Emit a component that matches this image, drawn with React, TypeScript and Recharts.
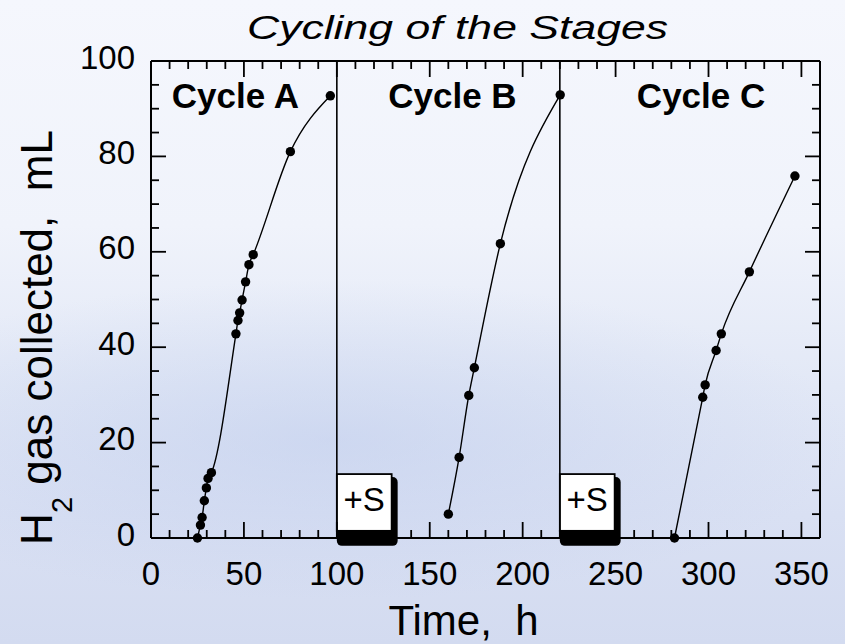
import React from 'react';
import {
  ComposedChart,
  Line,
  Scatter,
  XAxis,
  YAxis,
  ReferenceLine,
  ReferenceArea,
  ReferenceDot,
  Label,
} from 'recharts';

const FONT = '"Liberation Sans", Arial, Helvetica, sans-serif';

// time (h) and H2 volume (mL)
const cycleATime = [25, 26.6, 27.5, 28.7, 29.8, 30.7, 32.5, 45.7, 46.8, 47.7, 49, 50.9, 52.7, 55, 75, 96.5];
const cycleAVol = [0, 2.7, 4.3, 7.8, 10.5, 12.5, 13.7, 42.8, 45.6, 47.2, 49.9, 53.7, 57.3, 59.4, 81, 92.7];

const cycleBTime = [160, 165.8, 171, 174, 188, 220.2];
const cycleBVol = [5, 16.9, 29.9, 35.7, 61.7, 92.9];

const cycleCTime = [281.7, 296.9, 298.2, 304.1, 306.9, 322, 346.5];
const cycleCVol = [0, 29.5, 32.1, 39.3, 42.8, 55.8, 75.9];

const cycleNames = ['Cycle A', 'Cycle B', 'Cycle C'];
const cycleNameTimes = [45.4, 162.2, 296];
const cycleBreaks = [100, 220];
const sulfurTimes = [100, 220];

const xTicks = [10, 20, 30, 40, 50, 60, 70, 80, 90, 100, 110, 120, 130, 140, 150, 160, 170, 180, 190, 200, 210, 220, 230, 240, 250, 260, 270, 280, 290, 300, 310, 320, 330, 340, 350];
const xLabels = [0, 50, 100, 150, 200, 250, 300, 350];
const yTicks = [5, 10, 15, 20, 25, 30, 35, 40, 45, 50, 55, 60, 65, 70, 75, 80, 85, 90, 95];
const yLabels = [0, 20, 40, 60, 80, 100];

const zip = (t: number[], v: number[]) => t.map((time, i) => ({ t: time, v: v[i] }));
const cycleA = zip(cycleATime, cycleAVol);
const cycleB = zip(cycleBTime, cycleBVol);
const cycleC = zip(cycleCTime, cycleCVol);

// inward frame ticks, placed through the chart scales
const bottomTicks = xTicks.map((t) => ({ t, v: 0 }));
const topTicks = xTicks.map((t) => ({ t, v: 100 }));
const leftTicks = yTicks.map((v) => ({ t: 0, v }));
const rightTicks = yTicks.map((v) => ({ t: 360, v }));

const TICK = { stroke: '#000', strokeWidth: 1.8 };
const xLen = (t: number) => (xLabels.includes(t) ? 16 : 8);
const yLen = (v: number) => (yLabels.includes(v) ? 15 : 8);

const BottomMark = ({ cx, cy, payload }: any) => <line x1={cx} x2={cx} y1={cy} y2={cy - xLen(payload.t)} {...TICK} />;
const TopMark = ({ cx, cy, payload }: any) => <line x1={cx} x2={cx} y1={cy} y2={cy + xLen(payload.t)} {...TICK} />;
const LeftMark = ({ cx, cy, payload }: any) => <line x1={cx} x2={cx + yLen(payload.v)} y1={cy} y2={cy} {...TICK} />;
const RightMark = ({ cx, cy, payload }: any) => <line x1={cx} x2={cx - yLen(payload.v)} y1={cy} y2={cy} {...TICK} />;

const BottomLabel = ({ x, y, payload }: any) => (
  <text x={x} y={y + 47} textAnchor="middle" fontSize={33} fontFamily={FONT} fill="#000">
    {payload.value}
  </text>
);

const LeftLabel = ({ x, y, payload }: any) => (
  <text x={x - 16} y={y + 7.5} textAnchor="end" fontSize={33} fontFamily={FONT} fill="#000">
    {payload.value}
  </text>
);

const EmptyTick = () => <g />;

// white "+S" card with a black block shadow
const SulfurBox = ({ x, y, width, height }: any) => (
  <g>
    <rect x={x} y={y + 3} width={width + 6} height={height + 12} rx={5} fill="#000" />
    <rect x={x} y={y} width={width} height={height} fill="#fff" stroke="#000" strokeWidth={1.8} />
    <text x={x + width / 2} y={y + 37} textAnchor="middle" fontSize={33} fontFamily={FONT} fill="#000">
      +S
    </text>
  </g>
);

const dot = { r: 4.7, fill: '#000', stroke: 'none' };
const frame = { stroke: '#000', strokeWidth: 2 };

export default function App() {
  return (
    <div
      style={{
        position: 'absolute',
        left: 0,
        top: 0,
        width: 845,
        height: 644,
        overflow: 'hidden',
        background:
          'radial-gradient(ellipse 520px 160px at 330px 440px, rgba(185,200,235,0.45), rgba(185,200,235,0) 100%), linear-gradient(to bottom, #f5f7fd 0%, #f0f3fb 35%, #e2e8f6 60%, #d9e0f3 80%, #d3dbf0 100%)',
      }}
    >
      <ComposedChart width={845} height={644} margin={{ top: 60, right: 24, bottom: 105, left: 150 }}>
        <XAxis
          type="number"
          dataKey="t"
          domain={[0, 360]}
          ticks={xLabels}
          interval={0}
          height={1}
          tickSize={0}
          tickMargin={0}
          tick={BottomLabel}
          tickLine={false}
          axisLine={frame}
        >
          <Label
            content={({ viewBox }: any) => (
              <text
                x={viewBox.x + viewBox.width / 2 - 22}
                y={viewBox.y + 97}
                textAnchor="middle"
                fontSize={42}
                fontFamily={FONT}
                fill="#000"
              >
                {'Time,\u00a0 h'}
              </text>
            )}
          />
        </XAxis>
        <XAxis
          xAxisId="top"
          orientation="top"
          type="number"
          domain={[0, 360]}
          ticks={xLabels}
          height={1}
          tickSize={0}
          tick={EmptyTick}
          tickLine={false}
          axisLine={frame}
        >
          <Label
            content={({ viewBox }: any) => (
              <text
                x={viewBox.x + viewBox.width / 2 - 28}
                y={viewBox.y - 21}
                textAnchor="middle"
                fontSize={34}
                fontStyle="italic"
                fontFamily={FONT}
                fill="#000"
                textLength={421}
                lengthAdjust="spacingAndGlyphs"
              >
                Cycling of the Stages
              </text>
            )}
          />
        </XAxis>
        <YAxis
          type="number"
          dataKey="v"
          domain={[0, 100]}
          ticks={yLabels}
          interval={0}
          width={1}
          tickSize={0}
          tickMargin={0}
          tick={LeftLabel}
          tickLine={false}
          axisLine={frame}
        >
          <Label
            content={({ viewBox }: any) => {
              const cx = viewBox.x - 98;
              const cy = viewBox.y + viewBox.height / 2 + 38;
              return (
                <text
                  transform={`rotate(-90 ${cx} ${cy})`}
                  x={cx}
                  y={cy}
                  textAnchor="middle"
                  fontSize={44}
                  fontFamily={FONT}
                  fill="#000"
                >
                  H
                  <tspan fontSize={29} dy={20}>
                    2
                  </tspan>
                  <tspan dy={-20}>{' gas collected,\u00a0 mL'}</tspan>
                </text>
              );
            }}
          />
        </YAxis>
        <YAxis
          yAxisId="right"
          orientation="right"
          type="number"
          domain={[0, 100]}
          ticks={yLabels}
          width={1}
          tickSize={0}
          tick={EmptyTick}
          tickLine={false}
          axisLine={frame}
        />

        <Scatter data={bottomTicks} dataKey="v" shape={BottomMark} isAnimationActive={false} />
        <Scatter data={topTicks} dataKey="v" shape={TopMark} isAnimationActive={false} />
        <Scatter data={leftTicks} dataKey="v" shape={LeftMark} isAnimationActive={false} />
        <Scatter data={rightTicks} dataKey="v" shape={RightMark} isAnimationActive={false} />

        {cycleBreaks.map((t) => (
          <ReferenceLine key={`br${t}`} x={t} stroke="#000" strokeWidth={1.6} />
        ))}

        {sulfurTimes.map((t) => (
          <ReferenceArea
            key={`s${t}`}
            x1={t}
            x2={t + 29.5}
            y1={1.5}
            y2={13.4}
            ifOverflow="visible"
            shape={SulfurBox}
          />
        ))}

        {cycleNames.map((name, i) => (
          <ReferenceDot
            key={name}
            x={cycleNameTimes[i]}
            y={92.8}
            r={0}
            stroke="none"
            fill="none"
            label={{
              value: name,
              position: 'center',
              fontSize: 35,
              fontWeight: 'bold',
              fontFamily: FONT,
              fill: '#000',
            }}
          />
        ))}

        <Line data={cycleA} dataKey="v" type="monotone" stroke="#000" strokeWidth={1.4} dot={dot} activeDot={false} isAnimationActive={false} />
        <Line data={cycleB} dataKey="v" type="monotone" stroke="#000" strokeWidth={1.4} dot={dot} activeDot={false} isAnimationActive={false} />
        <Line data={cycleC} dataKey="v" type="monotone" stroke="#000" strokeWidth={1.4} dot={dot} activeDot={false} isAnimationActive={false} />
      </ComposedChart>
    </div>
  );
}
